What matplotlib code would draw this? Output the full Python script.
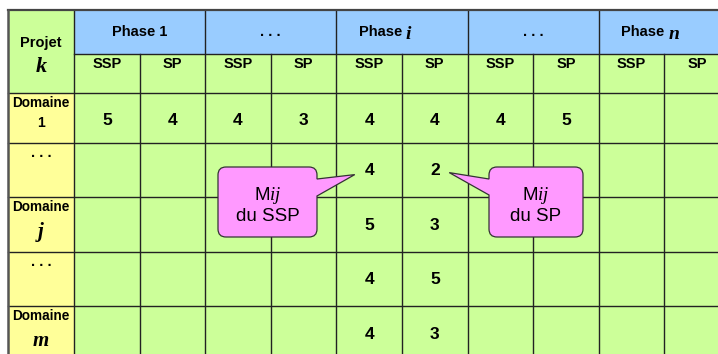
import matplotlib
matplotlib.use("Agg")
import matplotlib.pyplot as plt
from matplotlib.patches import Rectangle, PathPatch
from matplotlib.path import Path

plt.rcParams['font.family'] = ['Liberation Sans', 'DejaVu Sans']
plt.rcParams['mathtext.fontset'] = 'custom'
plt.rcParams['mathtext.rm'] = 'Liberation Sans'
plt.rcParams['mathtext.it'] = 'Liberation Serif:italic'

# ---------------- data ----------------
corner_title = "Projet"
corner_symbol = "k"
phase_names = ["Phase", ". . .", "Phase", ". . .", "Phase"]
phase_symbols = ["1", "", "i", "", "n"]
subcols = ["SSP", "SP"]
domain_names = ["Domaine", ". . .", "Domaine", ". . .", "Domaine"]
domain_index = ["1", "", "j", "", "m"]
row1 = [5, 4, 4, 3, 4, 4, 4, 5, None, None]
row2 = [None, None, None, None, 4, 2, None, None, None, None]
row3 = [None, None, None, None, 5, 3, None, None, None, None]
row4 = [None, None, None, None, 4, 5, None, None, None, None]
row5 = [None, None, None, None, 4, 3, None, None, None, None]
values = [row1, row2, row3, row4, row5]
callout_texts = ["M$ij$\ndu SSP", "M$ij$\ndu SP"]
callout_targets = [(1, 4), (1, 5)]  # (row, col) of annotated values

# ---------------- layout ----------------
W, H = 718, 354
fig = plt.figure(figsize=(W / 100, H / 100), dpi=100)
ax = fig.add_axes([0, 0, 1, 1])
ax.set_xlim(0, W)
ax.set_ylim(H, 0)
ax.axis("off")

x_left = 8
x_first = 74
colw = 65.6
ncols = len(phase_names) * len(subcols)
col_x = [x_first + k * colw for k in range(ncols + 1)]
x_right = col_x[-1]

y_top = 10
y_phase = 54
y_sub = 92.6
row_h = [50.0, 54.5, 54.5, 54.5, 54.5]
row_y = [y_sub]
for h in row_h:
    row_y.append(row_y[-1] + h)
y_bot = row_y[-1]

BLUE = "#99CCFF"
GREEN = "#CCFF99"
YELLOW = "#FFFF99"
PINK = "#FF99FF"
LINE = "#222222"
SERIF = dict(family="Liberation Serif", style="italic", fontweight="bold")

# fills
ax.add_patch(Rectangle((x_left, y_top), x_first - x_left, y_sub - y_top, fc=GREEN, ec="none"))
ax.add_patch(Rectangle((x_first, y_top), x_right - x_first, y_phase - y_top, fc=BLUE, ec="none"))
ax.add_patch(Rectangle((x_first, y_phase), x_right - x_first, y_bot - y_phase, fc=GREEN, ec="none"))
ax.add_patch(Rectangle((x_left, y_sub), x_first - x_left, y_bot - y_sub, fc=YELLOW, ec="none"))

# grid lines
lw = 1.0
ax.plot([x_first, x_right], [y_phase, y_phase], color=LINE, lw=lw)
for y in row_y[:-1]:
    ax.plot([x_left, x_right], [y, y], color=LINE, lw=lw)
ax.plot([x_first, x_first], [y_top, y_bot], color=LINE, lw=lw)
for k in range(1, ncols):
    ys = y_top if k % 2 == 0 else y_phase
    ax.plot([col_x[k], col_x[k]], [ys, y_bot], color=LINE, lw=lw)
# outer border
ax.plot([x_left, x_right], [y_top, y_top], color="#444444", lw=1.6)
ax.plot([x_left, x_left], [y_top, y_bot], color="#555555", lw=1.8)

# corner text
xc0 = (x_left + x_first) / 2
ax.text(xc0, 43, corner_title, ha="center", va="center", fontsize=10.5, fontweight="bold")
ax.text(xc0, 72, corner_symbol, ha="center", va="baseline", fontsize=16, **SERIF)

# phase headers
for p, (name, sym) in enumerate(zip(phase_names, phase_symbols)):
    xc = (col_x[2 * p] + col_x[2 * p + 2]) / 2
    if sym.isdigit() or sym == "":
        label = name if sym == "" else name + " " + sym
        ax.text(xc, 36, label, ha="center", va="baseline", fontsize=10.5, fontweight="bold")
    else:
        t = ax.text(xc + 4, 36, name + " ", ha="right", va="baseline",
                    fontsize=10.5, fontweight="bold")
        ax.annotate(sym, xy=(1, 0), xycoords=t, ha="left", va="baseline",
                    fontsize=14, **SERIF)
    for s, sub in enumerate(subcols):
        xs = (col_x[2 * p + s] + col_x[2 * p + s + 1]) / 2
        ax.text(xs, 64.5, sub, ha="center", va="center", fontsize=10.5, fontweight="bold")

# domain labels
for r, (nm, idx) in enumerate(zip(domain_names, domain_index)):
    top = row_y[r]
    if nm.startswith("."):
        ax.text(xc0, top + 14, nm, ha="center", va="baseline", fontsize=10.5, fontweight="bold")
        continue
    ax.text(xc0, top + 10, nm, ha="center", va="center", fontsize=9.8, fontweight="bold")
    if idx.isdigit():
        ax.text(xc0, top + 34, idx, ha="center", va="baseline", fontsize=10, fontweight="bold")
    else:
        ax.text(xc0, top + 40, idx, ha="center", va="baseline", fontsize=15, **SERIF)

# values
for r, row in enumerate(values):
    for c, v in enumerate(row):
        if v is None:
            continue
        xc = (col_x[c] + col_x[c + 1]) / 2
        ax.text(xc, row_y[r] + 28, str(v), ha="center", va="center", fontsize=12.5, fontweight="bold")


def callout(x0, y0, x1, y1, r, side, tip, b0, b1, text):
    verts, codes = [], []

    def M(p):
        verts.append(p); codes.append(Path.MOVETO)

    def L(p):
        verts.append(p); codes.append(Path.LINETO)

    def Q(c, p):
        verts.extend([c, p]); codes.extend([Path.CURVE3, Path.CURVE3])

    M((x0 + r, y0)); L((x1 - r, y0)); Q((x1, y0), (x1, y0 + r))
    if side == "right":
        L((x1, b0)); L(tip); L((x1, b1))
    L((x1, y1 - r)); Q((x1, y1), (x1 - r, y1))
    L((x0 + r, y1)); Q((x0, y1), (x0, y1 - r))
    if side == "left":
        L((x0, b1)); L(tip); L((x0, b0))
    L((x0, y0 + r)); Q((x0, y0), (x0 + r, y0))
    verts.append((x0 + r, y0)); codes.append(Path.CLOSEPOLY)
    ax.add_patch(PathPatch(Path(verts, codes), fc=PINK, ec="#333333", lw=0.9, zorder=5))
    ax.text((x0 + x1) / 2, (y0 + y1) / 2 + 3, text, ha="center", va="center",
            fontsize=13.5, linespacing=1.2, zorder=6)


# left callout -> value in (row 1, col 4)
r0, c0 = callout_targets[0]
tip0 = (col_x[c0] + 0.28 * colw, row_y[r0] + 32)
callout(218, 167, 317, 237, 8, "right", tip0, 179, 196, callout_texts[0])
# right callout -> value in (row 1, col 5)
r1, c1 = callout_targets[1]
tip1 = (col_x[c1] + 0.72 * colw, row_y[r1] + 30)
callout(489, 167, 583, 237, 8, "left", tip1, 179, 195, callout_texts[1])

fig.savefig("out.png", dpi=100)
